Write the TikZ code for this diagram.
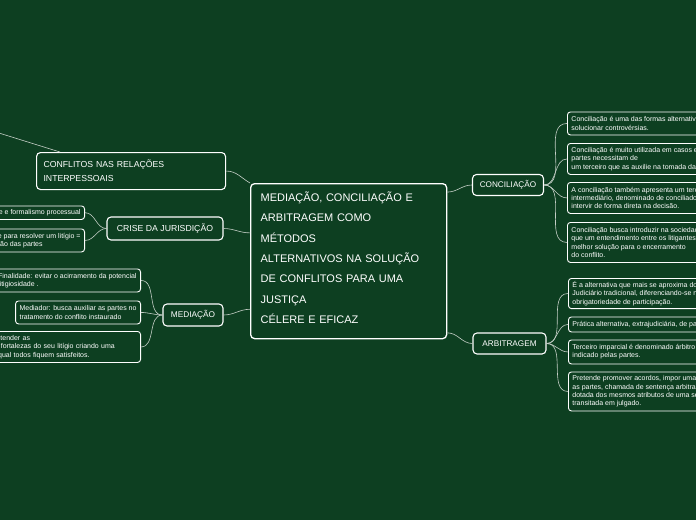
\documentclass[tikz,border=0pt]{standalone}
\usepackage{fontspec}
\setmainfont{Liberation Sans}
\usetikzlibrary{positioning}
\definecolor{mapBoard}{RGB}{13,63,33}
\definecolor{mapLine}{RGB}{196,206,198}

\begin{document}
\begin{tikzpicture}[x=1pt,y=-1pt,
    topic/.style={draw=white, line width=1.1pt, rounded corners=4pt, fill=mapBoard, text=white,
      font=\fontsize{8.7}{14}\selectfont, inner xsep=7pt, inner ysep=4pt, align=center},
    note/.style={draw=white, line width=0.9pt, rounded corners=3pt, fill=mapBoard, text=white,
      font=\fontsize{7}{8.3}\selectfont, inner xsep=4pt, inner ysep=3pt, align=left},
    link/.style={draw=mapLine, line width=0.6pt}]
    \useasboundingbox (0,0) rectangle (696,520);
    \fill[mapBoard] (0,0) rectangle (696,520);
    \clip (0,0) rectangle (696,520);

    % central topic
    \node[topic, anchor=north west, align=left, text width=176pt, minimum height=155pt, inner xsep=10pt,
      line width=1.3pt, font=\fontsize{11}{20.3}\selectfont] (central) at (250,183)
      {MEDIAÇÃO, CONCILIAÇÃO E\\ARBITRAGEM COMO\\MÉTODOS\\ALTERNATIVOS NA SOLUÇÃO\\DE CONFLITOS PARA UMA\\JUSTIÇA\\CÉLERE E EFICAZ\rule[-7pt]{0pt}{0pt}};

    % left branches
    \node[topic, anchor=north west, align=left, text width=175pt, minimum height=37pt] (conflitos) at (36,152)
      {CONFLITOS NAS RELAÇÕES\\INTERPESSOAIS};
    \coordinate (farLeft) at (-30,124);
    \node[topic, minimum width=116pt, minimum height=23pt] (crise) at (165,228.5) {CRISE DA JURISDIÇÃO};
    \node[topic, minimum width=60pt, minimum height=22pt, font=\fontsize{8.3}{14}\selectfont] (mediacao) at (193,315) {MEDIAÇÃO};

    \node[note, anchor=north east, minimum height=13.5pt] (crise1) at (85,205.5)
      {Morosidade e  formalismo processual};
    \node[note, anchor=north east, minimum height=23pt] (crise2) at (85,228.5)
      {Morosidade para resolver um litígio =\\a insatisfação das partes};

    \node[note, anchor=north east, minimum height=23pt] (med1) at (141,268.5)
      {Finalidade: evitar o acirramento da potencial\\litigiosidade .};
    \node[note, anchor=north east, minimum height=23pt] (med2) at (141,300.5)
      {Mediador: busca auxiliar as partes no\\tratamento do conflito instaurado};
    \node[note, anchor=north east, minimum height=31pt, text width=175pt] (med3) at (141,331)
      {Objetivo: entender as\\fraquezas e fortalezas do seu litígio criando uma\\solução na qual todos fiquem satisfeitos.};

    % right branches
    \node[topic, minimum width=71pt, minimum height=21pt, font=\fontsize{8.2}{14}\selectfont] (conciliacao) at (508,185) {CONCILIAÇÃO};
    \node[topic, minimum width=73pt, minimum height=21pt, font=\fontsize{8.2}{14}\selectfont] (arbitragem) at (509.5,343.5) {ARBITRAGEM};

    \node[note, anchor=north west, minimum height=23pt] (conc1) at (567,111.5)
      {Conciliação é uma das formas alternativas de\\solucionar controvérsias.};
    \node[note, anchor=north west, minimum height=31pt] (conc2) at (567,143)
      {Conciliação é muito utilizada em casos em que as\\partes necessitam de\\um terceiro que as auxilie na tomada da decisão.};
    \node[note, anchor=north west, minimum height=31pt] (conc3) at (567,182)
      {A conciliação também apresenta um terceiro\\intermediário, denominado de conciliador, que pode\\intervir de forma direta na decisão.};
    \node[note, anchor=north west, minimum height=40pt] (conc4) at (567,222)
      {Conciliação busca introduzir na sociedade a ideia de\\que um entendimento entre os litigantes é a\\melhor solução para o encerramento\\do conflito.};

    \node[note, anchor=north west, minimum height=29pt] (arb1) at (568,278)
      {É a alternativa que mais se aproxima do\\Judiciário tradicional, diferenciando-se na não\\obrigatoriedade de participação.};
    \node[note, anchor=north west, minimum height=15pt] (arb2) at (568,316.5)
      {Prática alternativa, extrajudiciária, de pacificação social};
    \node[note, anchor=north west, minimum height=24pt] (arb3) at (568,339.5)
      {Terceiro imparcial é denominado árbitro e é\\indicado pelas partes.};
    \node[note, anchor=north west, minimum height=39pt] (arb4) at (568,371.5)
      {Pretende promover acordos, impor uma decisão\\as partes, chamada de sentença arbitral,\\dotada dos mesmos atributos de uma sentença\\transitada em julgado.};

    % connectors
    \draw[link] (conflitos.165) -- (farLeft);
    \draw[link] (conflitos.east) to[out=0,in=150] (central.north west);
    \draw[link] (crise.east) to[out=0,in=180] (central.164);
    \draw[link] (mediacao.east) to[out=0,in=180] (central.206);
    \draw[link] (central.35) to[out=0,in=180] (conciliacao.west);
    \draw[link] (central.-36) to[out=0,in=180] (arbitragem.west);
    \foreach \kid in {crise1,crise2}
      \draw[link] (crise.west) to[out=180,in=0] (\kid.east);
    \foreach \kid in {med1,med2,med3}
      \draw[link] (mediacao.west) to[out=180,in=0] (\kid.east);
    \foreach \kid in {conc1,conc2,conc3,conc4}
      \draw[link] (conciliacao.east) to[out=0,in=180] (\kid.west);
    \foreach \kid in {arb1,arb2,arb3,arb4}
      \draw[link] (arbitragem.east) to[out=0,in=180] (\kid.west);
\end{tikzpicture}
\end{document}
